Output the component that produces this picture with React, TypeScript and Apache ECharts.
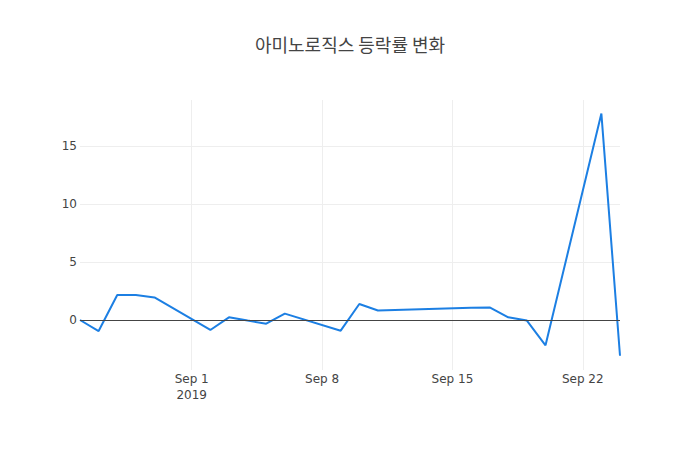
import React, { useEffect, useRef } from "react";
import * as echarts from "echarts";

const titleText = "아미노로직스 등락률 변화";

const dates = [
  "2019-08-26", "2019-08-27", "2019-08-28", "2019-08-29", "2019-08-30",
  "2019-09-02", "2019-09-03", "2019-09-04", "2019-09-05", "2019-09-06",
  "2019-09-09", "2019-09-10", "2019-09-11", "2019-09-16", "2019-09-17",
  "2019-09-18", "2019-09-19", "2019-09-20", "2019-09-23", "2019-09-24",
];

const changes = [
  0, -0.95, 2.15, 2.15, 1.95,
  -0.86, 0.23, -0.05, -0.32, 0.55,
  -0.92, 1.38, 0.82, 1.05, 1.08,
  0.23, -0.05, -2.18, 17.8, -3.08,
];

const xTickDates = ["2019-09-01", "2019-09-08", "2019-09-15", "2019-09-22"];
const xTickLabels = ["Sep 1\n2019", "Sep 8", "Sep 15", "Sep 22"];
const yTicks = [0, 5, 10, 15];

// day number, so the x axis can be a plain value axis
const toDay = (d: string) => {
  const [y, m, day] = d.split("-").map(Number);
  return Date.UTC(y, m - 1, day) / 86400000;
};

const App: React.FC = () => {
  const chartRef = useRef<HTMLDivElement | null>(null);

  useEffect(() => {
    if (!chartRef.current) return;
    const chart = echarts.init(chartRef.current, undefined, { renderer: "svg" });

    const tickDays = xTickDates.map(toDay);
    const labelFor = (v: number) => {
      const i = tickDays.findIndex((t) => Math.abs(t - v) < 1e-6);
      return i >= 0 ? xTickLabels[i] : "";
    };

    const options = {
      animation: false,
      backgroundColor: "#fff",
      title: {
        text: titleText,
        left: "center",
        top: 30,
        textStyle: {
          fontFamily: "Noto Sans CJK KR",
          fontSize: 18,
          fontWeight: "normal",
          color: "#444",
        },
      },
      grid: { left: 80, right: 80, top: 100, bottom: 80 },
      xAxis: {
        type: "value",
        min: toDay(dates[0]),
        max: toDay(dates[dates.length - 1]),
        axisLine: { show: false },
        axisTick: { show: false, customValues: tickDays },
        axisLabel: {
          customValues: tickDays,
          formatter: (v: number) => labelFor(v),
          color: "#444",
          fontFamily: "DejaVu Sans",
          fontSize: 12,
          lineHeight: 16,
          margin: 1,
        },
        splitLine: { show: true, lineStyle: { color: "#eee", width: 1 } },
      },
      yAxis: {
        type: "value",
        min: -4.31,
        max: 18.97,
        axisLine: { show: false },
        axisTick: { show: false, customValues: yTicks },
        axisLabel: {
          customValues: yTicks,
          color: "#444",
          fontFamily: "DejaVu Sans",
          fontSize: 12,
          margin: 3,
        },
        splitLine: { show: true, lineStyle: { color: "#eee", width: 1 } },
      },
      series: [
        {
          type: "line",
          data: dates.map((d, i) => [toDay(d), changes[i]]),
          showSymbol: false,
          lineStyle: { color: "#1C7FE3", width: 2 },
          itemStyle: { color: "#1C7FE3" },
          markLine: {
            silent: true,
            symbol: "none",
            label: { show: false },
            lineStyle: { color: "#444", width: 1, type: "solid" },
            data: [{ yAxis: 0 }],
          },
        },
      ],
    };

    chart.setOption(options);

    return () => {
      chart.dispose();
    };
  }, []);

  return (
    <div
      ref={chartRef}
      style={{ position: "fixed", left: 0, top: 0, width: "700px", height: "450px" }}
    />
  );
};

export default App;
